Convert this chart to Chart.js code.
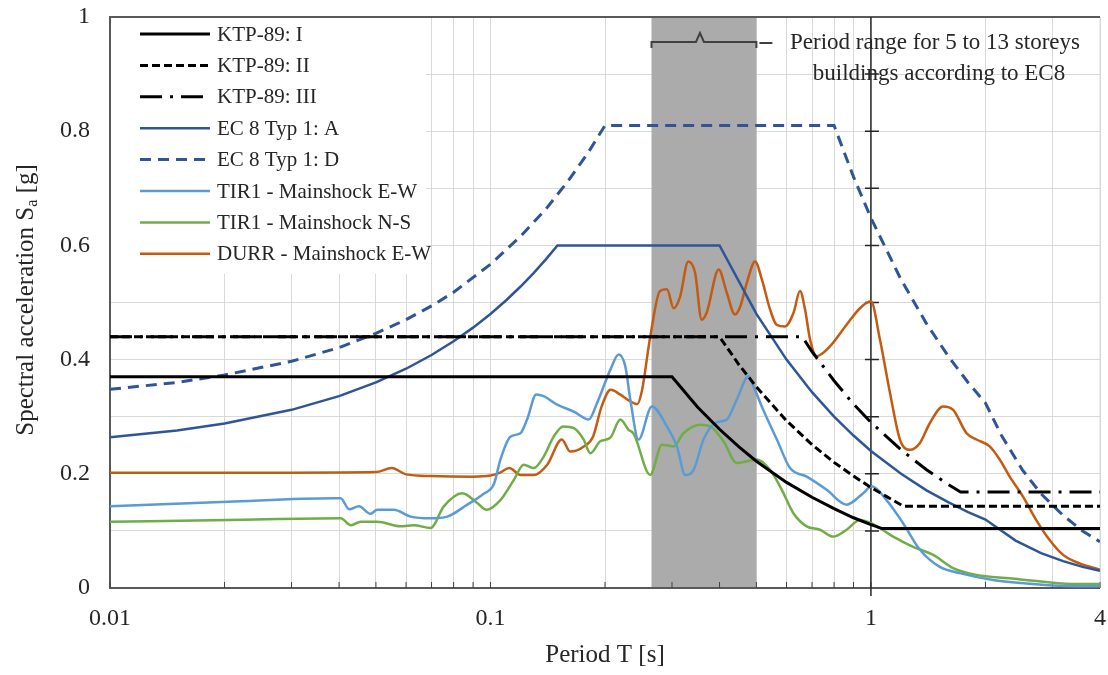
<!DOCTYPE html>
<html>
<head>
<meta charset="utf-8">
<script src="https://cdn.jsdelivr.net/npm/chart.js@4.4.1/dist/chart.umd.min.js"></script>
<style>
  html, body { margin: 0; padding: 0; background: #fff; }
</style>
</head>
<body>
<canvas id="spectra" width="1108" height="675"></canvas>
<script>
// axis ticks / grid
const xGridValues = [0.01, 0.02, 0.03, 0.04, 0.05, 0.06, 0.07, 0.08, 0.09,
                     0.1, 0.2, 0.3, 0.4, 0.5, 0.6, 0.7, 0.8, 0.9, 1, 2, 3, 4];
const xTickLabels = [0.01, 0.1, 1, 4];
const yTickLabels = [0, 0.2, 0.4, 0.6, 0.8, 1];
const periodRange = [0.265, 0.5]; // 5 to 13 storeys, EC8

// KTP-89 design spectra
const ktp1T  = [0.01, 0.3, 0.35, 0.4, 0.45, 0.5, 0.6, 0.7, 0.8, 0.9, 1.0, 1.07, 4];
const ktp1Sa = [0.37, 0.37, 0.317, 0.278, 0.247, 0.222, 0.185, 0.159, 0.139, 0.123, 0.111, 0.104, 0.104];
const ktp2T  = [0.01, 0.4, 0.45, 0.5, 0.6, 0.7, 0.8, 0.9, 1.0, 1.1, 1.22, 4];
const ktp2Sa = [0.44, 0.44, 0.391, 0.352, 0.293, 0.251, 0.22, 0.196, 0.176, 0.16, 0.143, 0.143];
const ktp3T  = [0.01, 0.66, 0.7, 0.8, 0.9, 1.0, 1.2, 1.4, 1.6, 1.72, 4];
const ktp3Sa = [0.44, 0.44, 0.414, 0.363, 0.322, 0.29, 0.242, 0.207, 0.181, 0.168, 0.168];

// EC8 type 1 spectra
const ec8AT  = [0.01, 0.015, 0.02, 0.03, 0.04, 0.05, 0.06, 0.07, 0.08, 0.09, 0.1, 0.11, 0.12, 0.13, 0.14, 0.15,
                0.4, 0.5, 0.6, 0.7, 0.8, 0.9, 1.0, 1.2, 1.4, 1.6, 1.8, 2.0, 2.4, 2.8, 3.2, 3.6, 4];
const ec8ASa = [0.264, 0.276, 0.288, 0.312, 0.336, 0.36, 0.384, 0.408, 0.432, 0.456, 0.48, 0.504, 0.528, 0.552, 0.576, 0.6,
                0.6, 0.48, 0.4, 0.343, 0.3, 0.267, 0.24, 0.2, 0.171, 0.15, 0.133, 0.12, 0.083, 0.061, 0.047, 0.037, 0.03];
const ec8DT  = [0.01, 0.015, 0.02, 0.03, 0.04, 0.05, 0.06, 0.07, 0.08, 0.1, 0.12, 0.14, 0.16, 0.18, 0.2,
                0.8, 0.9, 1.0, 1.2, 1.4, 1.6, 1.8, 2.0, 2.2, 2.5, 2.8, 3.2, 3.6, 4];
const ec8DSa = [0.348, 0.36, 0.373, 0.397, 0.421, 0.446, 0.47, 0.494, 0.518, 0.567, 0.616, 0.664, 0.713, 0.761, 0.81,
                0.81, 0.72, 0.648, 0.54, 0.463, 0.405, 0.36, 0.324, 0.268, 0.207, 0.165, 0.127, 0.1, 0.081];

// recorded mainshock spectra
const tirEwT  = [0.01, 0.0204, 0.0388, 0.0404, 0.0425, 0.0451, 0.0484, 0.0504, 0.0557, 0.0617, 0.0696, 0.077, 0.0869,
                 0.096, 0.1021, 0.1062, 0.1128, 0.1199, 0.1248, 0.1319, 0.138, 0.1497, 0.1656, 0.1812, 0.1906, 0.2065,
                 0.2172, 0.2262, 0.2331, 0.245, 0.2656, 0.2909, 0.309, 0.325, 0.342, 0.363, 0.39, 0.418, 0.444, 0.477,
                 0.4915, 0.521, 0.566, 0.6129, 0.678, 0.765, 0.863, 0.954, 1.004, 1.099, 1.216, 1.345, 1.517, 1.712,
                 2.094, 2.562, 3.133, 4];
const tirEwSa = [0.143, 0.151, 0.157, 0.157, 0.138, 0.143, 0.13, 0.137, 0.137, 0.125, 0.122, 0.125, 0.146,
                 0.165, 0.182, 0.225, 0.265, 0.271, 0.295, 0.339, 0.336, 0.321, 0.309, 0.295, 0.324, 0.382,
                 0.409, 0.388, 0.33, 0.26, 0.318, 0.283, 0.248, 0.198, 0.207, 0.26, 0.289, 0.295, 0.33, 0.371,
                 0.353, 0.312, 0.26, 0.21, 0.195, 0.172, 0.146, 0.166, 0.178, 0.154, 0.113, 0.067, 0.037, 0.026,
                 0.014, 0.008, 0.004, 0.003];
const tirNsT  = [0.01, 0.0204, 0.0404, 0.043, 0.0456, 0.0504, 0.058, 0.0629, 0.0696, 0.0754, 0.0843, 0.0923, 0.0976,
                 0.1062, 0.1151, 0.1223, 0.13, 0.138, 0.1466, 0.1553, 0.1656, 0.1758, 0.183, 0.1944, 0.2065, 0.2194,
                 0.2307, 0.238, 0.263, 0.2823, 0.303, 0.3216, 0.3558, 0.378, 0.4097, 0.444, 0.472, 0.501, 0.543,
                 0.5831, 0.6255, 0.678, 0.7347, 0.796, 0.863, 0.936, 1.004, 1.144, 1.291, 1.458, 1.644, 1.894,
                 2.316, 2.834, 3.467, 4];
const tirNsSa = [0.116, 0.119, 0.122, 0.11, 0.116, 0.116, 0.108, 0.11, 0.105, 0.143, 0.166, 0.149, 0.137,
                 0.154, 0.189, 0.216, 0.21, 0.23, 0.265, 0.283, 0.28, 0.26, 0.236, 0.257, 0.263, 0.295,
                 0.277, 0.27, 0.198, 0.251, 0.248, 0.271, 0.286, 0.283, 0.257, 0.219, 0.222, 0.225, 0.207,
                 0.172, 0.131, 0.108, 0.102, 0.09, 0.102, 0.119, 0.113, 0.09, 0.072, 0.058, 0.035, 0.023,
                 0.017, 0.011, 0.007, 0.007];
const durrT  = [0.01, 0.03, 0.05, 0.055, 0.06, 0.07, 0.09, 0.1, 0.106, 0.112, 0.12, 0.13, 0.141, 0.154, 0.162,
                0.176, 0.186, 0.196, 0.207, 0.219, 0.233, 0.243, 0.25, 0.263, 0.279, 0.291, 0.303, 0.315, 0.331,
                0.345, 0.359, 0.37, 0.398, 0.418, 0.439, 0.453, 0.472, 0.496, 0.517, 0.543, 0.565, 0.595, 0.626,
                0.651, 0.671, 0.692, 0.72, 0.78, 0.863, 0.936, 1.0, 1.056, 1.122, 1.192, 1.266, 1.345, 1.429,
                1.548, 1.645, 1.784, 1.894, 2.052, 2.18, 2.316, 2.51, 2.72, 2.949, 3.2, 3.535, 4];
const durrSa = [0.202, 0.202, 0.203, 0.21, 0.199, 0.196, 0.195, 0.197, 0.202, 0.21, 0.198, 0.198, 0.216, 0.26, 0.239,
                0.248, 0.265, 0.318, 0.347, 0.339, 0.327, 0.322, 0.345, 0.44, 0.52, 0.523, 0.49, 0.51, 0.572,
                0.552, 0.47, 0.482, 0.558, 0.517, 0.479, 0.492, 0.535, 0.572, 0.54, 0.488, 0.461, 0.458, 0.482,
                0.52, 0.488, 0.435, 0.406, 0.423, 0.461, 0.49, 0.502, 0.435, 0.342, 0.26, 0.242, 0.254, 0.289,
                0.318, 0.312, 0.271, 0.26, 0.248, 0.225, 0.195, 0.16, 0.119, 0.084, 0.058, 0.043, 0.032];

const SERIF = '"Liberation Serif", "Times New Roman", serif';
const TEXT = '#262626';
const GRID = '#D9D9D9';

const pts = (t, sa) => t.map((v, i) => ({ x: v, y: sa[i] }));

const codeLine = (label, t, sa, color, width, dash) => ({
  label, data: pts(t, sa), borderColor: color, backgroundColor: color,
  borderWidth: width, borderDash: dash, pointRadius: 0, tension: 0, fill: false
});
const recLine = (label, t, sa, color) => ({
  label, data: pts(t, sa), borderColor: color, backgroundColor: color,
  borderWidth: 2.5, borderDash: [], pointRadius: 0, cubicInterpolationMode: 'monotone', fill: false
});

const datasets = [
  codeLine('KTP-89: I',   ktp1T, ktp1Sa, '#000000', 3, []),
  codeLine('KTP-89: II',  ktp2T, ktp2Sa, '#000000', 3, [8, 4]),
  codeLine('KTP-89: III', ktp3T, ktp3Sa, '#000000', 3, [22, 8, 3, 8]),
  codeLine('EC 8 Typ 1: A', ec8AT, ec8ASa, '#2F5597', 2.5, []),
  codeLine('EC 8 Typ 1: D', ec8DT, ec8DSa, '#2F5597', 3, [11, 7]),
  recLine('TIR1 - Mainshock E-W', tirEwT, tirEwSa, '#5B9BD5'),
  recLine('TIR1 - Mainshock N-S', tirNsT, tirNsSa, '#70AD47'),
  recLine('DURR - Mainshock E-W', durrT, durrSa, '#C55A11')
];

// shaded period band, frame, T = 1 axis, legend box background
const backdrop = {
  id: 'backdrop',
  beforeDatasetsDraw(chart) {
    const { ctx, chartArea: a, scales: { x, y } } = chart;
    ctx.save();
    const b0 = x.getPixelForValue(periodRange[0]);
    const b1 = x.getPixelForValue(periodRange[1]);
    ctx.fillStyle = '#ABABAB';
    ctx.fillRect(b0, a.top, b1 - b0, a.bottom - a.top);

    // legend background
    ctx.fillStyle = '#fff';
    ctx.fillRect(a.left + 1, a.top + 1, 315, 256);

    // frame
    ctx.strokeStyle = GRID;
    ctx.lineWidth = 1;
    ctx.beginPath();
    ctx.moveTo(a.right, a.top); ctx.lineTo(a.right, a.bottom);
    ctx.stroke();
    ctx.strokeStyle = '#595959';
    ctx.lineWidth = 2;
    ctx.beginPath();
    ctx.moveTo(a.right, a.top); ctx.lineTo(a.left, a.top);
    ctx.lineTo(a.left, a.bottom); ctx.lineTo(a.right, a.bottom);
    ctx.stroke();

    // minor ticks on the period axis
    ctx.strokeStyle = '#404040';
    ctx.lineWidth = 1;
    ctx.beginPath();
    xGridValues.forEach(v => {
      const px = x.getPixelForValue(v);
      ctx.moveTo(px, a.bottom); ctx.lineTo(px, a.bottom - 6);
    });
    ctx.stroke();

    // vertical axis at T = 1 with its ticks
    const x1 = x.getPixelForValue(1);
    ctx.strokeStyle = '#262626';
    ctx.lineWidth = 1.5;
    ctx.beginPath();
    ctx.moveTo(x1, a.top); ctx.lineTo(x1, a.bottom + 8);
    for (let k = 1; k < 10; k++) {
      const py = y.getPixelForValue(k / 10);
      ctx.moveTo(x1 - 6, py); ctx.lineTo(x1 + 8, py);
    }
    ctx.stroke();
    ctx.restore();
  }
};

// legend, bracket note, axis titles
const overlay = {
  id: 'overlay',
  afterDraw(chart) {
    const { ctx, chartArea: a, scales: { x } } = chart;
    ctx.save();

    // legend
    ctx.font = '21px ' + SERIF;
    ctx.textBaseline = 'middle';
    ctx.textAlign = 'left';
    chart.data.datasets.forEach((ds, i) => {
      const ly = a.top + 17 + i * 31.4;
      ctx.beginPath();
      ctx.setLineDash(ds.borderDash || []);
      ctx.strokeStyle = ds.borderColor;
      ctx.lineWidth = ds.borderWidth;
      ctx.moveTo(a.left + 30, ly); ctx.lineTo(a.left + 100, ly);
      ctx.stroke();
      ctx.setLineDash([]);
      ctx.fillStyle = TEXT;
      ctx.fillText(ds.label, a.left + 107, ly + 1);
    });

    // bracket over the period band
    const b0 = x.getPixelForValue(periodRange[0]);
    const b1 = x.getPixelForValue(periodRange[1]);
    const bm = (b0 + b1) / 2 - 4;
    const by = a.top + 25;
    ctx.strokeStyle = '#404040';
    ctx.lineWidth = 2;
    ctx.beginPath();
    ctx.moveTo(b0, by + 6); ctx.lineTo(b0, by);
    ctx.lineTo(bm - 4, by); ctx.lineTo(bm, by - 9); ctx.lineTo(bm + 4, by);
    ctx.lineTo(b1, by); ctx.lineTo(b1, by + 6);
    ctx.moveTo(b1 + 3, by + 1); ctx.lineTo(b1 + 16, by + 1);
    ctx.stroke();

    ctx.fillStyle = TEXT;
    ctx.font = '23px ' + SERIF;
    ctx.textAlign = 'center';
    ctx.fillText('Period range for 5 to 13 storeys', 935, by + 1);
    ctx.fillText('buildings according to EC8', 939, by + 32);

    // x title
    ctx.font = '25px ' + SERIF;
    ctx.fillText('Period T [s]', (a.left + a.right) / 2, 655);

    // y title with subscript
    const main = 'Spectral acceleration S', sub = 'a', tail = ' [g]';
    ctx.translate(25, 300);
    ctx.rotate(-Math.PI / 2);
    ctx.textAlign = 'left';
    ctx.textBaseline = 'alphabetic';
    ctx.font = '25px ' + SERIF;
    const w1 = ctx.measureText(main).width;
    const w3 = ctx.measureText(tail).width;
    ctx.font = '16px ' + SERIF;
    const w2 = ctx.measureText(sub).width;
    let tx = -(w1 + w2 + w3) / 2;
    ctx.font = '25px ' + SERIF;
    ctx.fillText(main, tx, 8);
    tx += w1;
    ctx.font = '16px ' + SERIF;
    ctx.fillText(sub, tx, 12);
    tx += w2;
    ctx.font = '25px ' + SERIF;
    ctx.fillText(tail, tx, 8);
    ctx.restore();
  }
};

new Chart(document.getElementById('spectra'), {
  type: 'line',
  data: { datasets },
  plugins: [backdrop, overlay],
  options: {
    responsive: false,
    animation: false,
    events: [],
    devicePixelRatio: 1,
    layout: { padding: { top: 17, right: 8, left: 0, bottom: 0 } },
    plugins: { legend: { display: false }, tooltip: { enabled: false } },
    scales: {
      x: {
        type: 'logarithmic',
        min: 0.01,
        max: 4,
        afterBuildTicks: s => { s.ticks = xGridValues.map(v => ({ value: v })); },
        afterFit: s => { s.height = 87; s.paddingLeft = 0; s.paddingRight = 0; },
        ticks: {
          autoSkip: false,
          maxRotation: 0,
          padding: 16,
          color: TEXT,
          font: { family: SERIF, size: 24 },
          callback: v => (xTickLabels.includes(v) ? String(v) : '')
        },
        grid: { color: GRID, lineWidth: 1, drawTicks: false },
        border: { display: false }
      },
      y: {
        type: 'linear',
        min: 0,
        max: 1,
        afterFit: s => { s.width = 110; s.paddingTop = 0; s.paddingBottom = 0; },
        ticks: {
          stepSize: 0.1,
          padding: 20,
          color: TEXT,
          font: { family: SERIF, size: 24 },
          callback: v => {
            const t = yTickLabels.find(l => Math.abs(l - v) < 1e-6);
            return t === undefined ? '' : String(t);
          }
        },
        grid: { color: GRID, lineWidth: 1, drawTicks: false },
        border: { display: false }
      }
    }
  }
});
</script>
</body>
</html>
